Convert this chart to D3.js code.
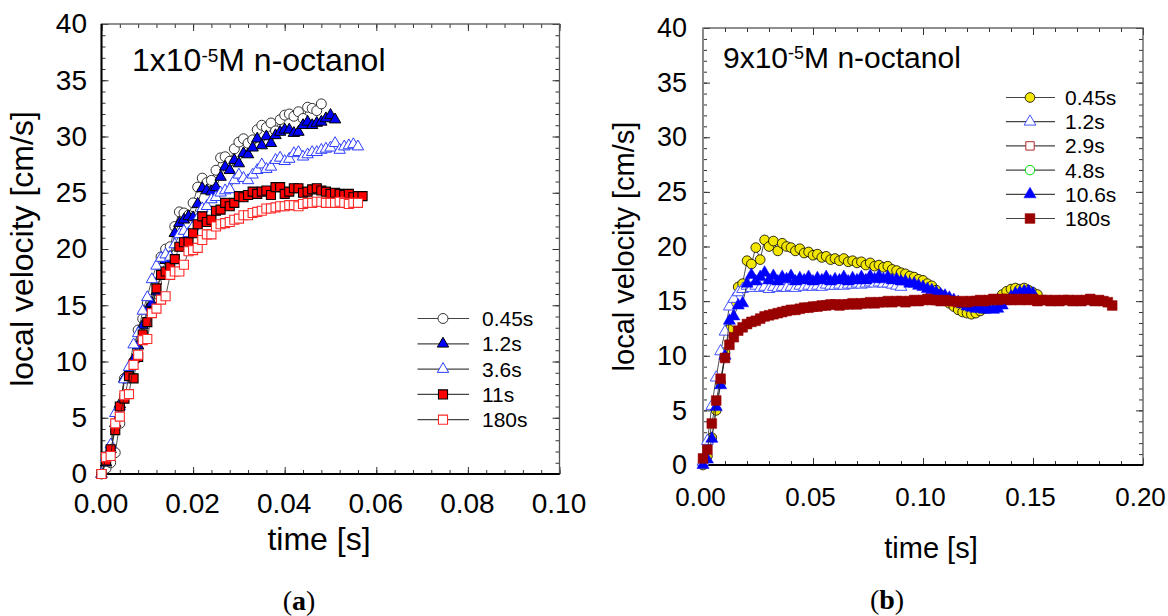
<!DOCTYPE html>
<html>
<head>
<meta charset="utf-8">
<script src="https://cdn.jsdelivr.net/npm/d3@7"></script>
<style>
body { margin: 0; background: #fff; }
text { font-family: "Liberation Sans", Arial, sans-serif; fill: #000; }
</style>
</head>
<body>
<svg id="chart" width="1168" height="616"></svg>
<script>
/** Panel (a): 1x10^-5 M n-octanol, time axis in seconds **/
var tA = [0,0.001,0.002,0.003,0.004,0.005,0.006,0.007,0.008,0.009,
          0.010,0.011,0.012,0.013,0.014,0.015,0.016,0.017,0.018,0.019,
          0.020,0.021,0.022,0.023,0.024,0.025,0.026,0.027,0.028,0.029,
          0.030,0.031,0.032,0.033,0.034,0.035,0.036,0.037,0.038,0.039,
          0.040,0.041,0.042,0.043,0.044,0.045,0.046,0.047,0.048,0.049,
          0.050,0.051,0.052,0.053,0.054,0.055,0.056,0.057];
var namesA = ["0.45s", "1.2s", "3.6s", "11s", "180s"];
var velA_045 = [0,0.5,1.0,1.9,4.5,8.5,8.8,10.0,12.8,13.8,
                15.2,15.3,17.0,19.3,20.0,20.2,22.0,23.3,23.2,23.0,
                24.1,25.5,26.3,25.9,26.1,27.0,28.1,28.2,27.8,28.9,
                29.5,29.8,29.4,29.7,30.6,31.0,30.8,31.2,30.5,31.5,
                31.9,32.0,31.8,32.2,31.6,32.6,32.5,32.3,32.9];
var velA_12 = [0,1.0,2.2,4.5,6.2,8.5,9.0,10.2,11.4,13.2,
               14.6,15.2,16.2,17.6,19.0,19.3,21.4,22.3,22.6,22.9,
               22.8,24.0,25.4,25.2,25.1,25.5,26.4,27.3,27.0,27.9,
               27.6,28.5,28.4,29.0,29.8,29.2,30.0,29.4,30.1,30.4,
               30.6,30.6,30.3,30.4,31.0,31.3,31.0,31.2,31.3,31.6,
               31.9,31.5];
var velA_36 = [0,1.5,2.6,5.4,6.0,8.4,9.5,11.5,12.5,14.5,
               15.7,17.3,18.5,19.2,19.5,19.3,20.4,21.3,21.6,21.4,
               22.0,22.7,23.6,23.8,24.4,24.6,25.0,25.2,25.3,26.1,
               26.6,26.3,26.1,26.6,27.0,27.5,27.1,27.3,27.9,28.1,
               27.8,28.0,28.5,28.6,28.2,28.4,28.6,28.6,28.8,28.9,
               29.0,29.4,28.8,29.1,29.2,29.3,29.1];
var velA_11 = [0,1.2,2.2,3.9,6.0,6.7,8.7,8.5,10.4,12.4,
               13.5,14.4,16.5,17.7,18.0,18.4,19.1,20.2,20.6,20.6,
               21.4,22.2,22.9,22.4,22.6,23.4,23.5,24.1,23.8,24.1,
               24.7,24.6,24.8,25.1,24.9,25.1,25.2,24.8,25.5,25.5,
               24.9,25.1,25.4,25.4,25.0,25.1,25.3,25.4,25.2,25.1,
               24.9,25.0,24.9,24.8,24.9,24.6,24.7,24.7];
var velA_180 = [0,1.5,1.6,4.5,5.1,7.0,7.1,9.7,10.6,11.9,
                12.0,14.3,14.7,15.5,15.8,17.7,18.0,18.0,18.6,19.8,
                19.9,20.1,20.8,21.3,21.3,22.0,22.2,22.3,22.4,22.6,
                22.7,23.0,23.0,23.2,23.3,23.4,23.6,23.6,23.7,23.8,
                23.8,23.9,23.9,23.8,24.0,24.1,24.1,24.2,24.2,24.1,
                24.1,24.1,24.2,24.1,24.0,24.1,24.1];

/** Panel (b): 9x10^-5 M n-octanol **/
var tB = [0,0.002,0.004,0.006,0.008,0.010,0.012,0.014,0.016,0.018,
          0.020,0.022,0.024,0.026,0.028,0.030,0.032,0.034,0.036,0.038,
          0.040,0.042,0.044,0.046,0.048,0.050,0.052,0.054,0.056,0.058,
          0.060,0.062,0.064,0.066,0.068,0.070,0.072,0.074,0.076,0.078,
          0.080,0.082,0.084,0.086,0.088,0.090,0.092,0.094,0.096,0.098,
          0.100,0.102,0.104,0.106,0.108,0.110,0.112,0.114,0.116,0.118,
          0.120,0.122,0.124,0.126,0.128,0.130,0.132,0.134,0.136,0.138,
          0.140,0.142,0.144,0.146,0.148,0.150,0.152,0.154,0.156,0.158,
          0.160,0.162,0.164,0.166,0.168,0.170,0.172,0.174,0.176,0.178,
          0.180,0.182,0.184,0.186];
var namesB = ["0.45s", "1.2s", "2.9s", "4.8s", "10.6s", "180s"];
var velB_045 = [0,0.8,2.5,5.0,7.5,10.3,12.4,14.8,16.3,16.6,
                18.7,18.4,19.9,18.8,20.6,20.0,20.5,19.6,20.3,20.0,
                19.9,19.6,19.8,19.4,19.5,19.2,19.3,19.0,19.1,18.8,
                18.9,18.7,18.9,18.6,18.7,18.5,18.6,18.3,18.5,18.2,
                18.3,18.1,18.2,17.9,17.8,17.6,17.5,17.3,17.2,17.0,
                16.9,16.6,16.4,16.0,15.6,15.2,14.8,14.5,14.2,14.0,
                13.9,13.8,13.9,14.1,14.3,14.6,14.9,15.2,15.6,15.9,
                16.1,16.2,16.1,16.2,16.0,15.8,15.6];
var velB_12 = [0.3,2.2,5.4,8.0,10.4,12.2,14.5,15.2,15.8,16.1,
               16.4,16.2,16.4,16.2,16.3,16.1,16.3,16.2,16.3,16.2,
               16.3,16.2,16.4,16.3,16.4,16.3,16.4,16.3,16.5,16.4,
               16.4,16.5,16.4,16.5,16.5,16.6,16.5,16.6,16.7,16.6,
               16.7,16.6,16.6,16.5,16.4,16.3];
var velB_29 = [];
var velB_48 = [];
var velB_106 = [0,0.5,2.4,5.3,7.3,10.0,13.2,13.6,14.6,14.8,
                16.6,17.4,16.8,17.2,17.6,16.9,17.3,16.8,17.2,17.0,
                17.3,16.8,17.1,16.9,17.2,16.8,17.1,16.9,17.2,16.8,
                17.0,16.9,17.2,16.8,17.1,16.9,17.2,16.9,17.3,17.0,
                17.3,17.0,17.2,16.9,17.0,16.8,16.8,16.6,16.6,16.4,
                16.3,16.1,16.0,15.8,15.6,15.5,15.3,15.1,14.9,14.7,
                14.5,14.4,14.3,14.3,14.2,14.3,14.2,14.3,14.6,15.0,
                15.4,15.7,15.8,15.9,15.9,15.7];
var velB_180 = [0.6,1.4,3.8,5.9,7.9,9.8,11.0,11.7,12.3,12.6,
                12.9,13.1,13.2,13.4,13.6,13.7,13.8,13.9,14.0,14.1,
                14.2,14.2,14.3,14.4,14.4,14.5,14.5,14.6,14.6,14.7,
                14.7,14.6,14.7,14.7,14.8,14.7,14.8,14.8,14.9,14.8,
                14.9,14.9,15.0,14.9,15.0,15.0,14.9,15.0,15.1,15.0,
                15.1,15.2,15.1,15.1,15.0,15.1,15.0,15.0,14.9,15.0,
                14.9,15.0,15.0,15.1,15.0,15.1,15.2,15.1,15.2,15.2,
                15.1,15.2,15.1,15.2,15.1,15.2,15.0,15.1,15.1,15.0,
                15.1,15.0,15.1,15.1,15.0,15.1,15.0,15.1,15.2,15.0,
                15.1,15.0,14.9,14.6];

/** Tick values **/
var xTicksA = [0, 0.02, 0.04, 0.06, 0.08, 0.10];
var xTicksB = [0, 0.05, 0.10, 0.15, 0.20];
var yTicks = [0, 5, 10, 15, 20, 25, 30, 35, 40];

var svg = d3.select("#chart");

/** Marker styles for each series **/
var stylesA = [
    {sym: d3.symbolCircle, size: 78, fill: "#fff", stroke: "#333", sw: 1},
    {sym: d3.symbolTriangle, size: 56, fill: "#0000ff", stroke: "#000", sw: 1},
    {sym: d3.symbolTriangle, size: 56, fill: "#fff", stroke: "#2a3cff", sw: 1},
    {sym: d3.symbolSquare, size: 82, fill: "#ff0000", stroke: "#000", sw: 1.1},
    {sym: d3.symbolSquare, size: 82, fill: "#fff", stroke: "#ff2a2a", sw: 1.1}
];
var stylesB = [
    {sym: d3.symbolCircle, size: 74, fill: "#f3e600", stroke: "#000", sw: 0.8},
    {sym: d3.symbolTriangle, size: 60, fill: "#fff", stroke: "#3344ff", sw: 0.9},
    {sym: d3.symbolSquare, size: 70, fill: "#fff", stroke: "#b02828", sw: 1},
    {sym: d3.symbolCircle, size: 70, fill: "#fff", stroke: "#00dd00", sw: 1},
    {sym: d3.symbolTriangle, size: 64, fill: "#0000ff", stroke: "#0000ff", sw: 0.5},
    {sym: d3.symbolSquare, size: 96, fill: "#990000", stroke: "#990000", sw: 0.5}
];

var seriesA = [velA_045, velA_12, velA_36, velA_11, velA_180].map(function (v, i) {
    return {name: namesA[i], style: stylesA[i], pts: v.map(function (d, j) { return [tA[j], d]; })};
});
var seriesB = [velB_045, velB_12, velB_29, velB_48, velB_106, velB_180].map(function (v, i) {
    return {name: namesB[i], style: stylesB[i], pts: v.map(function (d, j) { return [tB[j], d]; })};
});

function styleAxis(sel, fs) {
    sel.select(".domain").remove();
    sel.selectAll("line").attr("stroke", "#333").attr("stroke-width", 1);
    sel.selectAll("text").style("font-size", fs + "px").style("font-family", "'Liberation Sans', Arial, sans-serif").attr("fill", "#000");
}

function drawPanel(p) {
    var x = d3.scaleLinear().domain([0, p.xMax]).range([p.left, p.right]);
    var y = d3.scaleLinear().domain([0, 40]).range([p.bottom, p.top]);
    var g = svg.append("g");

    var minorX = d3.range(0, p.xMax + 1e-9, p.xMinor);
    var minorY = d3.range(0, 40.001, 1);

    /** Inward ticks on all four sides **/
    g.append("g").attr("transform", "translate(0," + p.bottom + ")")
        .call(d3.axisBottom(x).tickValues(minorX).tickSize(-4).tickFormat(""))
        .call(styleAxis, p.tickFont);
    g.append("g").attr("transform", "translate(0," + p.bottom + ")")
        .call(d3.axisBottom(x).tickValues(p.xTicks).tickSize(-7).tickPadding(p.xPad).tickFormat(d3.format(".2f")))
        .call(styleAxis, p.xTickFont)
        .selectAll("text").attr("dx", p.xDx);
    g.append("g").attr("transform", "translate(0," + p.top + ")")
        .call(d3.axisTop(x).tickValues(minorX).tickSize(-4).tickFormat(""))
        .call(styleAxis, p.tickFont);
    g.append("g").attr("transform", "translate(0," + p.top + ")")
        .call(d3.axisTop(x).tickValues(p.xTicks).tickSize(-7).tickFormat(""))
        .call(styleAxis, p.tickFont);
    g.append("g").attr("transform", "translate(" + p.left + ",0)")
        .call(d3.axisLeft(y).tickValues(minorY).tickSize(-4).tickFormat(""))
        .call(styleAxis, p.tickFont);
    g.append("g").attr("transform", "translate(" + p.left + ",0)")
        .call(d3.axisLeft(y).tickValues(yTicks).tickSize(-7).tickPadding(p.yPad).tickFormat(d3.format("d")))
        .call(styleAxis, p.tickFont);
    g.append("g").attr("transform", "translate(" + p.right + ",0)")
        .call(d3.axisRight(y).tickValues(minorY).tickSize(-4).tickFormat(""))
        .call(styleAxis, p.tickFont);
    g.append("g").attr("transform", "translate(" + p.right + ",0)")
        .call(d3.axisRight(y).tickValues(yTicks).tickSize(-7).tickFormat(""))
        .call(styleAxis, p.tickFont);

    /** Plot frame **/
    g.append("rect")
        .attr("x", p.left).attr("y", p.top)
        .attr("width", p.right - p.left).attr("height", p.bottom - p.top)
        .attr("fill", "none").attr("stroke", "#555").attr("stroke-width", 1.3);
    g.append("line").attr("x1", p.left).attr("x2", p.left).attr("y1", p.top).attr("y2", p.bottom)
        .attr("stroke", p.leftColor).attr("stroke-width", 2);
    g.append("line").attr("x1", p.left).attr("x2", p.right).attr("y1", p.bottom).attr("y2", p.bottom)
        .attr("stroke", "#000").attr("stroke-width", 2);

    /** Series: connecting line then markers **/
    var line = d3.line().x(function (d) { return x(d[0]); }).y(function (d) { return y(d[1]); });
    p.series.forEach(function (s) {
        var sg = g.append("g");
        sg.append("path").datum(s.pts)
            .attr("d", line).attr("fill", "none")
            .attr("stroke", "#222").attr("stroke-width", 0.8);
        sg.selectAll("path.mk").data(s.pts).enter().append("path")
            .attr("class", "mk")
            .attr("transform", function (d) { return "translate(" + x(d[0]) + "," + y(d[1]) + ")"; })
            .attr("d", d3.symbol().type(s.style.sym).size(s.style.size))
            .attr("fill", s.style.fill)
            .attr("stroke", s.style.stroke)
            .attr("stroke-width", s.style.sw);
    });

    /** Legend **/
    p.series.forEach(function (s, i) {
        var ly = p.legY + i * p.legStep;
        g.append("line").attr("x1", p.legX1).attr("x2", p.legX2).attr("y1", ly).attr("y2", ly)
            .attr("stroke", "#444").attr("stroke-width", 1.2);
        g.append("path")
            .attr("transform", "translate(" + p.legM + "," + ly + ")")
            .attr("d", d3.symbol().type(s.style.sym).size(s.style.size))
            .attr("fill", s.style.fill).attr("stroke", s.style.stroke).attr("stroke-width", s.style.sw);
        g.append("text").attr("x", p.legT).attr("y", ly + 7.5)
            .style("font-size", p.legFont + "px").text(s.name);
    });

    /** Title with superscript **/
    var t = g.append("text").attr("x", p.titleX).attr("y", p.titleY).style("font-size", p.titleFont + "px");
    t.append("tspan").text(p.titleA);
    t.append("tspan").attr("dy", -9).style("font-size", p.supFont + "px").text("-5");
    t.append("tspan").attr("dy", 9).text("M n-octanol");

    /** Axis titles **/
    g.append("text")
        .attr("transform", "translate(" + p.yTitleX + "," + p.yTitleY + ") rotate(-90)")
        .attr("text-anchor", "middle").style("font-size", p.axisFont + "px")
        .text("local velocity [cm/s]");
    g.append("text").attr("x", p.xTitleX).attr("y", p.xTitleY)
        .attr("text-anchor", "middle").style("font-size", p.axisFont + "px")
        .text("time [s]");

    /** Panel label **/
    var lab = g.append("text").attr("x", p.labX).attr("y", p.labY).attr("text-anchor", "middle")
        .style("font-family", "'Liberation Serif', 'DejaVu Serif', serif").style("font-size", "28px");
    lab.append("tspan").text("(");
    lab.append("tspan").style("font-weight", "bold").text(p.label);
    lab.append("tspan").text(")");
}

drawPanel({
    left: 101.5, right: 559.5, top: 24, bottom: 474, xMax: 0.1, xMinor: 0.004,
    xTicks: xTicksA, tickFont: 28, xTickFont: 28, xDx: -1, xPad: 19, yPad: 14.5, leftColor: "#000",
    series: seriesA,
    legY: 318.5, legStep: 25.3, legX1: 417.5, legX2: 469, legM: 443, legT: 482, legFont: 21,
    titleA: "1x10", titleX: 132, titleY: 71, titleFont: 32, supFont: 19,
    axisFont: 32, yTitleX: 33, yTitleY: 249, xTitleX: 319, xTitleY: 550,
    label: "a", labX: 299, labY: 610
});

drawPanel({
    left: 703, right: 1143, top: 28, bottom: 465, xMax: 0.2, xMinor: 0.01,
    xTicks: xTicksB, tickFont: 27, xTickFont: 26, xDx: -3, xPad: 23, yPad: 16, leftColor: "#888",
    series: seriesB,
    legY: 97.5, legStep: 24.2, legX1: 1006, legX2: 1055, legM: 1030, legT: 1065, legFont: 21,
    titleA: "9x10", titleX: 723, titleY: 68, titleFont: 30, supFont: 18,
    axisFont: 29, yTitleX: 634, yTitleY: 246.5, xTitleX: 931, xTitleY: 558,
    label: "b", labX: 887, labY: 609
});
</script>
</body>
</html>
